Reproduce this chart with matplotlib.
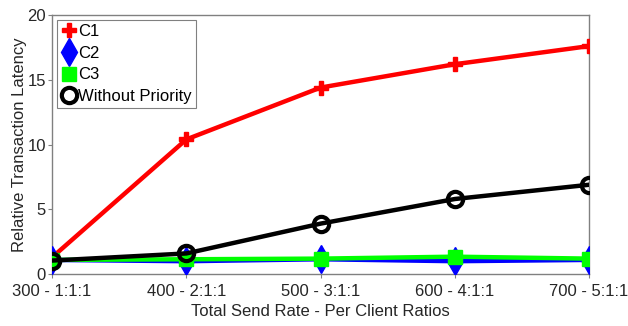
import matplotlib
matplotlib.use("Agg")
import matplotlib.pyplot as plt

plt.rcParams['font.family'] = ['Liberation Sans', 'DejaVu Sans']

x_rates = [300, 400, 500, 600, 700]
x_labels = ["300 - 1:1:1", "400 - 2:1:1", "500 - 3:1:1", "600 - 4:1:1", "700 - 5:1:1"]
c1 = [1.3, 10.4, 14.4, 16.2, 17.6]
c2 = [1.1, 1.0, 1.15, 1.0, 1.1]
c3 = [1.1, 1.15, 1.2, 1.35, 1.2]
no_prio = [1.05, 1.6, 3.9, 5.8, 6.9]

fig = plt.figure(figsize=(6.28, 3.26), dpi=100)
ax = fig.add_axes([0.083, 0.159, 0.855, 0.795])

ax.plot(x_rates, c1, color='#ff0000', lw=3.2, marker='P', ms=10, mec='#ff0000', label='C1', zorder=3)
ax.plot(x_rates, c2, color='#0000ff', lw=3.2, marker='d', ms=14, mec='#0000ff', label='C2', zorder=4)
ax.plot(x_rates, c3, color='#00ff00', lw=3.2, marker='s', ms=10, mec='#00ff00', label='C3', zorder=5)
ax.plot(x_rates, no_prio, color='black', lw=3.2, marker='o', ms=11, mfc='none', mew=3, label='Without Priority', zorder=6)

ax.set_xlim(300, 700)
ax.set_ylim(0, 20)
ax.set_xticks(x_rates)
ax.set_xticklabels(x_labels)
ax.set_yticks([0, 5, 10, 15, 20])
ax.tick_params(direction='out', labelsize=12, colors='#262626', length=3, width=0.8)
ax.tick_params(axis='both', color='#808080')
ax.tick_params(axis='x', pad=4)
ax.tick_params(axis='y', pad=1.5)
for s in ax.spines.values():
    s.set_color('#808080')
    s.set_linewidth(1.0)
ax.set_xlabel('Total Send Rate - Per Client Ratios', fontsize=12, color='#262626', labelpad=4)
ax.set_ylabel('Relative Transaction Latency', fontsize=12, color='#262626')
ax.yaxis.set_label_coords(-0.046, 0.5)

leg = ax.legend(loc='upper left', fontsize=12, handlelength=0.9, handletextpad=0.1,
                borderpad=0.25, labelspacing=0.4, borderaxespad=0.3, fancybox=False,
                framealpha=1, edgecolor='#808080')
leg.get_frame().set_linewidth(0.8)
for h in leg.legend_handles:
    h.set_linestyle('none')

fig.savefig('out.png', dpi=100)
